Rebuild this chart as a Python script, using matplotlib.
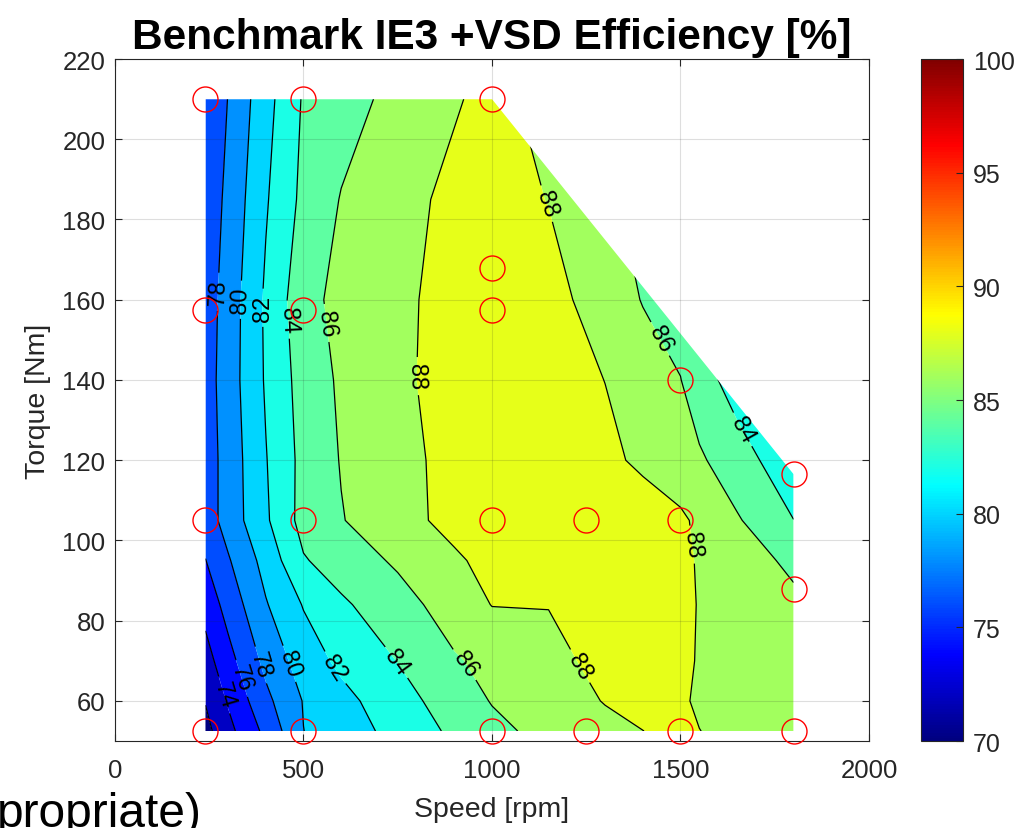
import matplotlib
matplotlib.use('Agg')
import matplotlib.pyplot as plt
import numpy as np
from matplotlib.colors import LinearSegmentedColormap, Normalize
from matplotlib.patches import Polygon
import matplotlib.cm as cm

plt.rcParams['font.family'] = ['Liberation Sans', 'DejaVu Sans']

# efficiency map (rows = torque, cols = speed)
speed = [240, 300, 400, 500, 600, 750, 900, 1000, 1150, 1300, 1400, 1500, 1550, 1650, 1800]
torque = [52.5, 60, 70, 84, 95, 105, 120, 140, 160, 185, 210]
eff = [
    [71.4, 73.4, 76.5, 79.98, 81.0, 82.65, 84.4, 85.5, 86.6, 87.4, 87.99, 88.3, 88.02, 87.6, 87.0],
    [72.1, 74.2, 77.5, 80.1, 81.4, 83.2, 85.0, 86.1, 86.9, 88.1, 88.35, 88.2, 87.8, 87.4, 87.0],
    [73.2, 75.3, 78.55, 80.95, 82.45, 84.05, 85.8, 86.56, 87.7, 88.3, 88.5, 88.3, 87.9, 87.3, 86.7],
    [74.7, 76.75, 79.85, 82.12, 83.7, 85.2, 86.95, 88.05, 88.03, 88.7, 88.9, 88.5, 87.9, 87.1, 86.4],
    [75.95, 77.8, 80.7, 83.84, 84.9, 86.3, 87.7, 88.6, 89.2, 89.3, 89.0, 88.4, 87.85, 86.9, 85.6],
    [77.0, 78.8, 81.7, 84.7, 85.9, 87.29, 88.6, 89.1, 89.3, 89.2, 88.9, 88.35, 87.6, 86.2, 84.02],
    [77.0, 78.8, 81.9, 84.6, 86.1, 87.5, 88.5, 89.1, 89.0, 88.4, 87.67, 86.74, 86.3, 84.8, 82.8],
    [77.1, 79.0, 82.2, 84.83, 86.3, 87.7, 88.6, 89.1, 88.8, 87.98, 87.0, 86.05, 84.8, 83.2, 82.0],
    [77.0, 78.86, 82.3, 85.3, 86.6, 87.7, 88.5, 89.0, 88.6, 87.2, 85.9, 85.0, 84.6, 84.0, 83.0],
    [76.6, 78.5, 81.8, 84.5, 86.1, 87.3, 88.5, 88.7, 87.95, 86.6, 85.0, 85.5, 85.2, 84.8, 84.2],
    [76.2, 78.05, 81.3, 84.2, 85.2, 86.6, 87.8, 88.6, 87.3, 86.6, 86.0, 85.5, 85.2, 84.7, 84.0],
]

# measured operating points (red circles)
pt_speed = [240, 240, 240, 240, 500, 500, 500, 500, 1000, 1000, 1000, 1000, 1000,
            1250, 1250, 1500, 1500, 1500, 1800, 1800, 1800]
pt_torque = [52.5, 105, 157.5, 210, 52.5, 105, 157.5, 210, 52.5, 105, 157.5, 168, 210,
             52.5, 105, 52.5, 105, 140, 52.5, 88, 116.5]

levels = list(range(70, 101, 2))

# where the contour labels sit
label_pos = [(265, 162), (332, 160), (388, 158), (449, 155), (544, 154), (783, 141),
             (1146, 184), (1441, 150), (1652, 127), (1534, 99),
             (287, 61.4), (335, 65.6), (385, 68.9), (451, 68.9), (579, 68),
             (748, 69.7), (924, 68.9), (1221, 68)]

# MATLAB style jet
jet_m = LinearSegmentedColormap.from_list(
    'jet_m', [(0, (0, 0, 0.5)), (1/8, (0, 0, 1)), (3/8, (0, 1, 1)),
              (5/8, (1, 1, 0)), (7/8, (1, 0, 0)), (1, (0.5, 0, 0))], N=256)
norm = Normalize(70, 100)
band_colors = [jet_m(norm(lv)) for lv in levels[:-1]]

fig = plt.figure(figsize=(10.14, 8.29), dpi=100)
ax = fig.add_axes([0.1134, 0.1049, 0.7436, 0.8227])
cax = fig.add_axes([0.9083, 0.1049, 0.0414, 0.8227])

S, T = np.meshgrid(speed, torque)
E = np.array(eff)

cf = ax.contourf(S, T, E, levels=levels, colors=band_colors, antialiased=True)
cl = ax.contour(S, T, E, levels=levels, colors='k', linewidths=0.9)

# measured envelope (convex hull of the test points)
top_t = max(pt_torque)
bot_t = min(pt_torque)
left_s = min(pt_speed)
right_s = max(pt_speed)
s_top = max(s for s, t in zip(pt_speed, pt_torque) if t == top_t)
t_right = max(t for s, t in zip(pt_speed, pt_torque) if s == right_s)
hull = Polygon([(left_s, bot_t), (right_s, bot_t), (right_s, t_right),
                (s_top, top_t), (left_s, top_t)], closed=True,
               facecolor='none', edgecolor='none')
ax.add_patch(hull)
cf.set_clip_path(hull)
cl.set_clip_path(hull)

ax.plot(pt_speed, pt_torque, 'o', mfc='none', mec='red', ms=18, mew=1.0,
        clip_on=False, zorder=5)

ax.set_xlim(0, 2000)
ax.set_ylim(50, 220)
ax.set_xticks([0, 500, 1000, 1500, 2000])
ax.set_yticks(range(60, 221, 20))

ax.clabel(cl, manual=label_pos, fmt='%d', fontsize=17, inline=True, inline_spacing=6)

dark = '#262626'
ax.grid(True, color=dark, alpha=0.15, linewidth=0.8)
ax.tick_params(direction='in', length=5, width=0.8, top=True, right=True,
               labelsize=18.5, colors=dark)
ax.tick_params(axis='x', pad=12)
ax.tick_params(axis='y', pad=7)
for sp in ax.spines.values():
    sp.set_color(dark)
    sp.set_linewidth(0.8)

ax.set_xlabel('Speed [rpm]', fontsize=20.5, color=dark, labelpad=10)
ax.set_ylabel('Torque [Nm]', fontsize=20.5, color=dark, labelpad=8)
ax.set_title('Benchmark IE3 +VSD Efficiency [%]', fontsize=30.5, fontweight='bold', pad=8)

cb = fig.colorbar(cm.ScalarMappable(norm=norm, cmap=jet_m), cax=cax, ticks=range(70, 101, 5))
cb.ax.tick_params(direction='in', length=5, width=0.8, labelsize=18, colors=dark, pad=7)
cb.outline.set_edgecolor(dark)
cb.outline.set_linewidth(0.8)

# leftover slide text at the bottom-left corner
fig.text(-0.003, 0.002, 'propriate)', fontsize=34.5, ha='left', va='baseline')

fig.savefig('out.png', dpi=100)
